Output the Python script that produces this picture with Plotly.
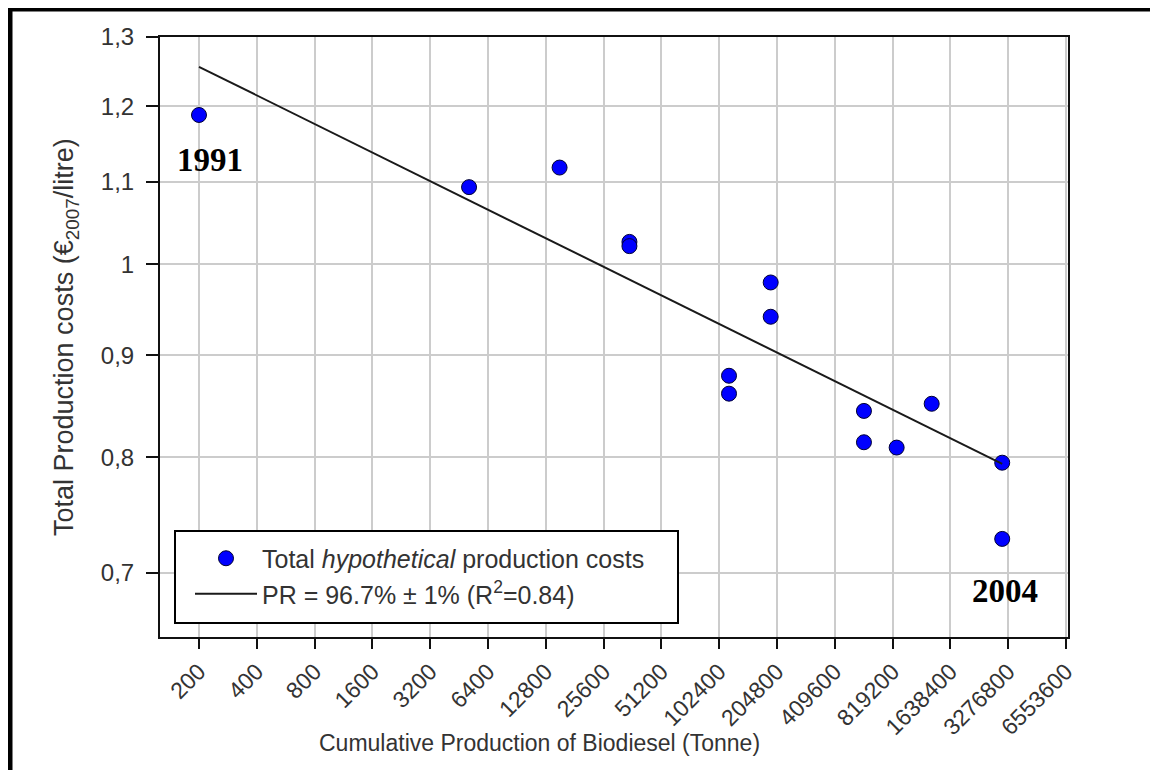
import math
import plotly.graph_objects as go

# ---- data ----
cum_production = [200, 5100, 15100, 34900, 34900, 115200, 115200, 189900, 189900,
                  581000, 581000, 860000, 1309000, 3050000, 3050000]
production_cost = [1.188, 1.093, 1.118, 1.026, 1.021, 0.879, 0.861, 0.979, 0.941,
                   0.844, 0.814, 0.809, 0.851, 0.795, 0.728]

fit_x = [200, 3050000]
fit_y = [1.256, 0.794]

x_tick_vals = [200 * 2 ** k for k in range(16)]
x_tick_text = [str(v) for v in x_tick_vals]
y_tick_vals = [0.7, 0.8, 0.9, 1.0, 1.1, 1.2, 1.3]
y_tick_text = ["0,7", "0,8", "0,9", "1", "1,1", "1,2", "1,3"]

# page body has an 8px margin -> figure is offset by 8px in the window
OFF = 8
W, H = 1158 - OFF, 770 - OFF
PL, PR_, PT, PB = 160, 1068, 37, 637          # plot area in window pixels
ML, MT = PL - OFF, PT - OFF
MR, MB = 1158 - PR_, 770 - PB
PW, PH = PR_ - PL, PB - PT


def px(xs):
    return (xs - PL) / PW


def py(ys):
    return (PB - ys) / PH


fig = go.Figure()
fig.add_trace(go.Scatter(
    x=cum_production, y=production_cost, mode="markers",
    name="Total <i>hypothetical</i> production costs",
    marker=dict(color="#0000ff", size=15, line=dict(color="#000033", width=1)),
))
fig.add_trace(go.Scatter(
    x=fit_x, y=fit_y, mode="lines",
    name="PR = 96.7% ± 1% (R<sup>2</sup>=0.84)",
    line=dict(color="#1a1a1a", width=2),
))

font_main = "Liberation Sans, Arial, sans-serif"
txt_col = "#333333"

fig.update_xaxes(
    type="log",
    range=[math.log10(125.3), math.log10(125.3 * 2 ** (PW / 57.8))],
    tickmode="array", tickvals=x_tick_vals, ticktext=x_tick_text,
    tickangle=-45, tickfont=dict(family=font_main, size=23, color=txt_col),
    ticks="outside", ticklen=10, tickwidth=2, tickcolor="#111",
    showgrid=True, gridcolor="#cccccc", gridwidth=2,
    showline=True, linecolor="#111", linewidth=2, mirror=True,
    zeroline=False,
)
fig.update_yaxes(
    type="log",
    range=[math.log10(0.65), math.log10(1.3)],
    tickmode="array", tickvals=y_tick_vals, ticktext=y_tick_text,
    tickfont=dict(family=font_main, size=24, color=txt_col),
    ticks="outside", ticklen=12, tickwidth=2, tickcolor="#111",
    ticklabelstandoff=7,
    showgrid=True, gridcolor="#cccccc", gridwidth=2,
    showline=True, linecolor="#111", linewidth=2, mirror=True,
    zeroline=False,
)

shapes = [
    # outer frame (top and left edges)
    dict(type="line", xref="paper", yref="paper", x0=px(OFF), x1=px(1170), y0=py(9), y1=py(9),
         line=dict(color="black", width=5)),
    dict(type="line", xref="paper", yref="paper", x0=px(10), x1=px(10), y0=py(OFF), y1=py(780),
         line=dict(color="black", width=5)),
    # legend box
    dict(type="rect", xref="paper", yref="paper", x0=px(175), x1=px(678), y0=py(623), y1=py(531),
         fillcolor="white", line=dict(color="black", width=2), layer="above"),
]

serif = "Liberation Serif, Times New Roman, serif"
annotations = [
    dict(text="<b>1991</b>", x=px(210), y=py(160), xref="paper", yref="paper", showarrow=False,
         font=dict(family=serif, size=33, color="black"), xanchor="center", yanchor="middle"),
    dict(text="<b>2004</b>", x=px(1005), y=py(591), xref="paper", yref="paper", showarrow=False,
         font=dict(family=serif, size=33, color="black"), xanchor="center", yanchor="middle"),
    dict(text="Cumulative Production of Biodiesel (Tonne)", x=px(539), y=py(743),
         xref="paper", yref="paper", showarrow=False,
         font=dict(family=font_main, size=23, color=txt_col), xanchor="center", yanchor="middle"),
    dict(text="Total Production costs (€<sub>2007</sub>/litre)", x=px(66), y=py(337),
         xref="paper", yref="paper", showarrow=False, textangle=-90,
         font=dict(family=font_main, size=27, color=txt_col), xanchor="center", yanchor="middle"),
]

fig.update_layout(
    width=W, height=H,
    margin=dict(l=ML, r=MR, t=MT, b=MB, pad=0),
    paper_bgcolor="white", plot_bgcolor="white",
    shapes=shapes, annotations=annotations,
    showlegend=True,
    legend=dict(
        x=px(190), y=py(576), xanchor="left", yanchor="middle",
        bgcolor="rgba(0,0,0,0)", borderwidth=0,
        font=dict(family=font_main, size=25, color=txt_col),
        itemwidth=62,
    ),
)

fig.write_html("out.html")
